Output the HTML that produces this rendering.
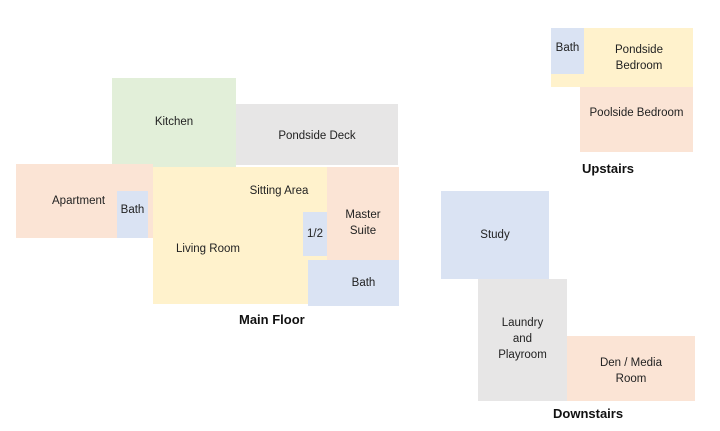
<!DOCTYPE html>
<html><head><meta charset="utf-8"><style>
body{margin:0;width:720px;height:431px;background:#fff;position:relative;overflow:hidden;font-family:"Liberation Sans",sans-serif;}
.r{position:absolute;display:flex;align-items:center;justify-content:center;text-align:center;font-size:11.5px;color:#222;line-height:16px;}
.g{background:#e2efd9}.gr{background:#e7e6e6}.p{background:#fbe4d5}.y{background:#fff2cc}.b{background:#dae3f3}
.t{position:absolute;font-weight:bold;font-size:13px;color:#111;}
</style></head><body>
<div class="r g" style="left:112px;top:78px;width:124px;height:89px;align-items:flex-start;padding-top:0"><span style="margin-top:36px">Kitchen</span></div>
<div class="r gr" style="left:236px;top:104px;width:162px;height:61px"><span style="margin-top:3px">Pondside Deck</span></div>
<div class="r p" style="left:16px;top:164px;width:137px;height:74px;justify-content:flex-start"><span style="margin-left:36px;margin-top:0px">Apartment</span></div>
<div class="r b" style="left:117px;top:191px;width:31px;height:47px;align-items:flex-start"><span style="margin-top:11px">Bath</span></div>
<div class="r y" style="left:153px;top:167px;width:174px;height:137px"></div>
<div class="r" style="left:236px;top:182px;width:86px;height:18px">Sitting Area</div>
<div class="r" style="left:165px;top:240px;width:86px;height:18px">Living Room</div>
<div class="r p" style="left:327px;top:167px;width:72px;height:93px"><span style="margin-top:18px">Master<br>Suite</span></div>
<div class="r b" style="left:303px;top:212px;width:24px;height:44px">1/2</div>
<div class="r b" style="left:308px;top:260px;width:91px;height:46px"><span style="margin-left:20px">Bath</span></div>
<div class="t" style="left:239px;top:312px">Main Floor</div>

<div class="r y" style="left:551px;top:28px;width:142px;height:59px"><span style="margin-left:34px;margin-top:1px">Pondside<br>Bedroom</span></div>
<div class="r b" style="left:551px;top:28px;width:33px;height:46px;align-items:flex-start"><span style="margin-top:12px">Bath</span></div>
<div class="r p" style="left:580px;top:87px;width:113px;height:65px;align-items:flex-start"><span style="margin-top:18px">Poolside Bedroom</span></div>
<div class="t" style="left:582px;top:161px">Upstairs</div>

<div class="r b" style="left:441px;top:191px;width:108px;height:88px">Study</div>
<div class="r gr" style="left:478px;top:279px;width:89px;height:122px"><span style="margin-top:-3px">Laundry<br>and<br>Playroom</span></div>
<div class="r p" style="left:567px;top:336px;width:128px;height:65px"><span style="margin-top:4px">Den / Media<br>Room</span></div>
<div class="t" style="left:553px;top:406px">Downstairs</div>
</body></html>
